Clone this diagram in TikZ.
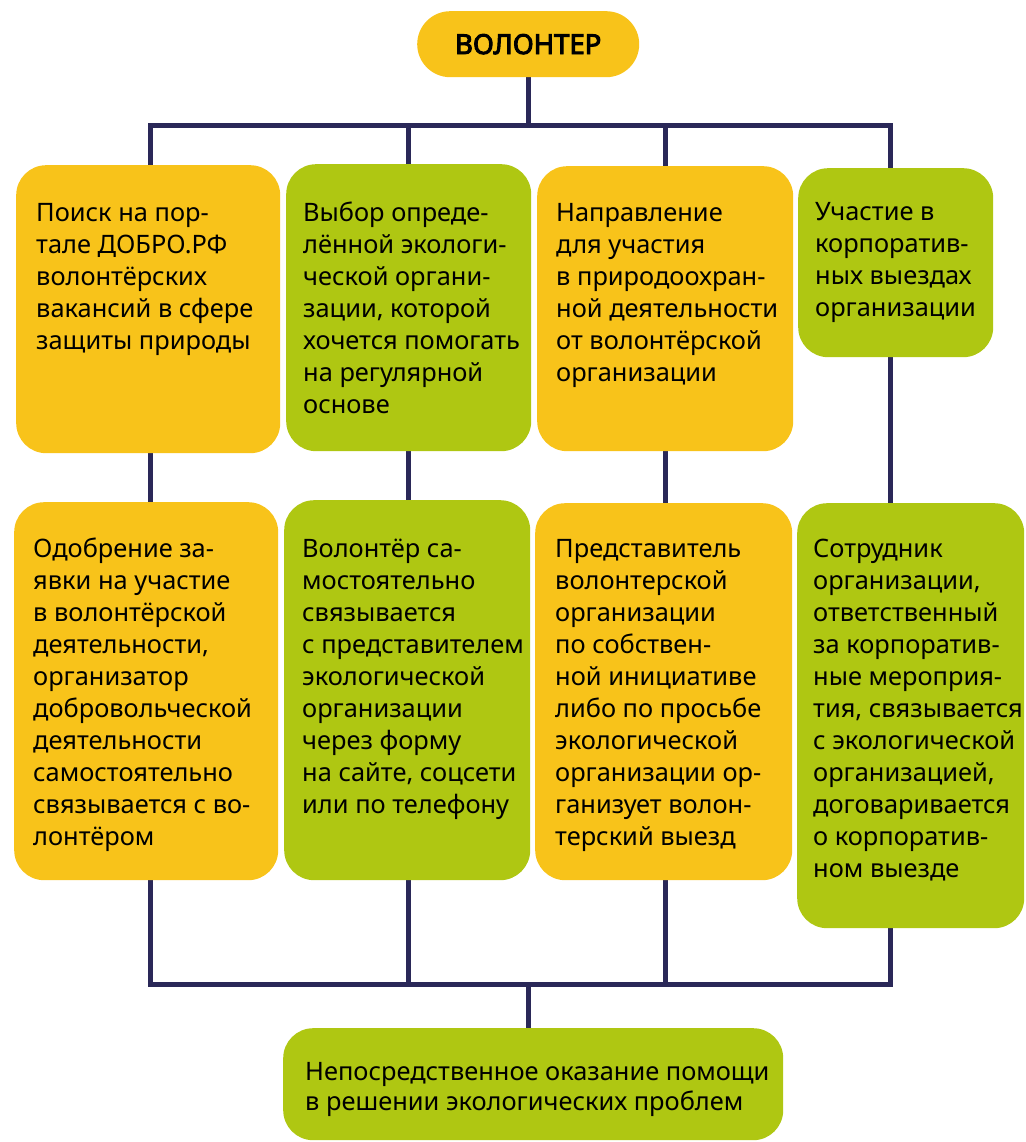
\documentclass[tikz,border=0pt]{standalone}
\usepackage{fontspec}
\setmainfont{Noto Sans}
\newfontfamily\titlefont{Noto Sans}[FakeBold=3.5]
\usetikzlibrary{backgrounds}
\definecolor{yel}{HTML}{F8C31A}
\definecolor{grn}{HTML}{AFC712}
\definecolor{navy}{HTML}{2A2858}
\begin{document}
\begin{tikzpicture}[x=1pt,y=-1pt,
  box/.style={rounded corners=30pt, inner sep=0pt, anchor=north west},
  ybox/.style={box, fill=yel},
  gbox/.style={box, fill=grn},
  txt/.style={inner sep=0pt, anchor=north west, align=left, text=black,
    font=\fontsize{25.4}{32}\selectfont},
  conn/.style={draw=navy, line width=5pt}]
\useasboundingbox (0,0) rectangle (1025,1142);
% boxes
\node[ybox, rounded corners=33pt, minimum width=222pt, minimum height=66pt] (top) at (417,11) {};
\node[font=\titlefont\fontsize{27.5}{32}\selectfont, inner sep=0pt] (toptxt) at (top.center) {ВОЛОНТЕР};
\node[ybox, minimum width=264pt, minimum height=288pt] (b1) at (16,165) {};
\node[gbox, minimum width=245pt, minimum height=287pt] (b2) at (286,164) {};
\node[ybox, minimum width=256pt, minimum height=285pt] (b3) at (537,166) {};
\node[gbox, minimum width=195pt, minimum height=189pt] (b4) at (798,168) {};
\node[ybox, minimum width=264pt, minimum height=378pt] (b5) at (14,502) {};
\node[gbox, minimum width=246pt, minimum height=380pt] (b6) at (284,500) {};
\node[ybox, minimum width=257pt, minimum height=377pt] (b7) at (535,503) {};
\node[gbox, minimum width=227pt, minimum height=425pt] (b8) at (797,503) {};
\node[gbox, minimum width=500pt, minimum height=112pt] (bot) at (283,1028) {};
% texts
\node[txt] (t1) at (36,198.6) {\strut Поиск на пор-\\тале ДОБРО.РФ\\волонтёрских\\вакансий в сфере\\защиты природы};
\node[txt] (t2) at (303,198.6) {\strut Выбор опреде-\\лённой экологи-\\ческой органи-\\зации, которой\\хочется помогать\\на регулярной\\основе};
\node[txt] (t3) at (556,198.6) {\strut Направление\\для участия\\в природоохран-\\ной деятельности\\от волонтёрской\\организации};
\node[txt] (t4) at (815,197.6) {\strut Участие в\\корпоратив-\\ных выездах\\организации};
\node[txt] (t5) at (33,534.6) {\strut Одобрение за-\\явки на участие\\в волонтёрской\\деятельности,\\организатор\\добровольческой\\деятельности\\самостоятельно\\связывается с во-\\лонтёром};
\node[txt] (t6) at (302,534.6) {\strut Волонтёр са-\\мостоятельно\\связывается\\с представителем\\экологической\\организации\\через форму\\на сайте, соцсети\\или по телефону};
\node[txt] (t7) at (555,534.6) {\strut Представитель\\волонтерской\\организации\\по собствен-\\ной инициативе\\либо по просьбе\\экологической\\организации ор-\\ганизует волон-\\терский выезд};
\node[txt] (t8) at (813,534.6) {\strut Сотрудник\\организации,\\ответственный\\за корпоратив-\\ные мероприя-\\тия, связывается\\с экологической\\организацией,\\договаривается\\о корпоратив-\\ном выезде};
\node[txt, font=\fontsize{25.4}{30}\selectfont] (tb) at (305,1059) {\strut Непосредственное оказание помощи\\в решении экологических проблем};
% connector coordinates
\coordinate (jt) at (528,126);
\coordinate (tl) at (150,126);
\coordinate (tm1) at (408,126);
\coordinate (tm2) at (665,126);
\coordinate (tr) at (890,126);
\coordinate (bl) at (150,984);
\coordinate (bm1) at (408,984);
\coordinate (bm2) at (665,984);
\coordinate (br) at (890,984);
\coordinate (jb) at (528,984);
\begin{pgfonlayer}{background}
\draw[conn] (jt |- top.south) -- (jt);
\draw[conn, line cap=rect] (tl) -- (tr);
\draw[conn, line cap=rect] (bl) -- (br);
\draw[conn] (tl) -- (bl);
\draw[conn] (tm1) -- (bm1);
\draw[conn] (tm2) -- (bm2);
\draw[conn] (tr) -- (br);
\draw[conn] (jb) -- (jb |- bot.north);
\end{pgfonlayer}
\end{tikzpicture}
\end{document}
